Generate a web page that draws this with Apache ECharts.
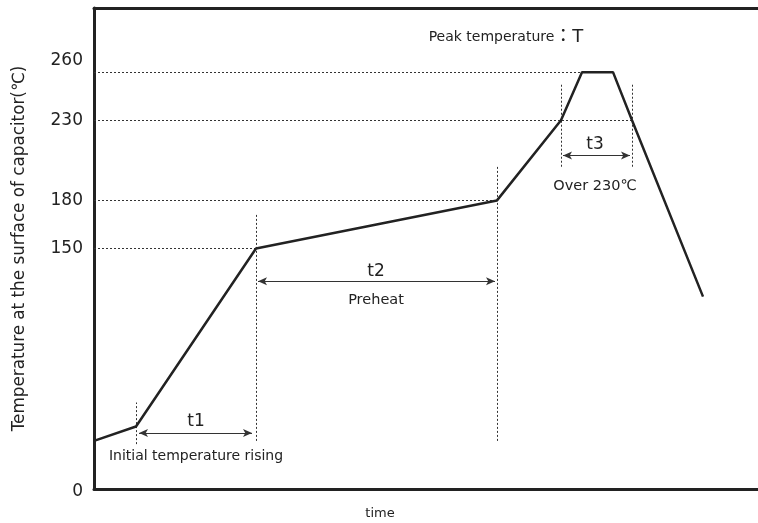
<!DOCTYPE html>
<html>
<head>
<meta charset="utf-8">
<script src="https://cdn.jsdelivr.net/npm/echarts@6/dist/echarts.min.js"></script>
<style>
  html, body { margin: 0; padding: 0; background: #fff; }
  #main { width: 758px; height: 523px; }
</style>
</head>
<body>
<div id="main"></div>
<script>
// reflow profile (time in arbitrary units, temperature in ℃)
var profileTime = [0, 42, 162, 403, 467, 488, 519, 538, 609];
var profileTemp = [30, 39, 150, 180, 230, 260, 260, 230, 120];
var tickLabels = [0, 150, 180, 230, 260];

// index of each key point in the profile
var P_T1 = 1, P_150 = 2, P_180 = 3, P_230UP = 4, P_PEAK = 5, P_230DN = 7;

var FONT = '"DejaVu Sans", "Noto Sans CJK JP", sans-serif';
var INK = '#222';

function pt(i) { return [profileTime[i], profileTemp[i]]; }

var dotted = { color: '#333', width: 1, type: [2, 2] };
var arrowStyle = { color: '#333', width: 1.2, type: 'solid' };

// horizontal dotted guide lines from the axis to the profile
var hLines = [
  [{ coord: [0, 150] }, { coord: pt(P_150) }],
  [{ coord: [0, 180] }, { coord: pt(P_180) }],
  [{ coord: [0, 230] }, { coord: pt(P_230DN) }],
  [{ coord: [0, 260] }, { coord: pt(P_PEAK) }]
];
// vertical dotted markers
var vLines = [
  [{ coord: [profileTime[P_T1], 28] }, { coord: [profileTime[P_T1], 54] }],
  [{ coord: [profileTime[P_150], 30] }, { coord: [profileTime[P_150], 171] }],
  [{ coord: [profileTime[P_180], 30] }, { coord: [profileTime[P_180], 201] }],
  [{ coord: [profileTime[P_230UP], 201] }, { coord: [profileTime[P_230UP], 253] }],
  [{ coord: [profileTime[P_230DN], 201] }, { coord: [profileTime[P_230DN], 253] }]
];
// double arrows
var arrows = [
  [{ coord: [profileTime[P_T1] + 3, 35] }, { coord: [profileTime[P_150] - 4, 35] }],
  [{ coord: [profileTime[P_150] + 2, 129.5] }, { coord: [profileTime[P_180] - 2, 129.5] }],
  [{ coord: [profileTime[P_230UP] + 2, 208] }, { coord: [profileTime[P_230DN] - 2, 208] }]
];

function txt(x, y, text, size) {
  return {
    coord: [x, y], symbol: 'circle', symbolSize: 1,
    itemStyle: { color: 'rgba(0,0,0,0)' },
    label: { show: true, position: 'inside', formatter: text, color: INK, fontFamily: FONT, fontSize: size }
  };
}

var notes = [
  txt(102, 42, 't1', 17),
  txt(102, 20.5, 'Initial temperature rising', 14),
  txt(282, 135.5, 't2', 17),
  txt(282, 117.5, 'Preheat', 14.5),
  txt(501, 215, 't3', 17),
  txt(501, 189, 'Over 230℃', 14.5),
  {
    coord: [412, 282], symbol: 'circle', symbolSize: 1,
    itemStyle: { color: 'rgba(0,0,0,0)' },
    label: {
      show: true, position: 'inside', formatter: '{a|Peak temperature}{b|：T}',
      rich: {
        a: { fontFamily: FONT, fontSize: 14, color: INK },
        b: { fontFamily: FONT, fontSize: 18, color: INK }
      }
    }
  }
];

var myChart = echarts.init(document.getElementById('main'));

var option = {
  backgroundColor: '#fff',
  animation: false,
  grid: { left: 94, right: 0, top: 8, bottom: 34, containLabel: false, outerBoundsMode: 'none' },
  xAxis: [{
    type: 'value', min: 0, max: 664,
    name: 'time', nameLocation: 'middle', nameGap: 18,
    nameTextStyle: { fontFamily: FONT, fontSize: 13, color: INK, padding: [0, 92, 0, 0] },
    axisLine: { show: true, onZero: false, lineStyle: { color: INK, width: 3 } },
    axisTick: { show: false }, axisLabel: { show: false }, splitLine: { show: false }
  }, {
    type: 'value', min: 0, max: 664, position: 'top',
    axisLine: { show: true, onZero: false, lineStyle: { color: INK, width: 3 } },
    axisTick: { show: false }, axisLabel: { show: false }, splitLine: { show: false }
  }],
  yAxis: {
    type: 'value', min: 0, max: 300, interval: 10,
    name: 'Temperature at the surface of capacitor(℃)',
    nameLocation: 'middle', nameGap: 66, nameRotate: 90,
    nameTextStyle: { fontFamily: FONT, fontSize: 16.8, color: INK },
    axisLine: { show: true, onZero: false, lineStyle: { color: INK, width: 3 } },
    axisTick: { show: false },
    splitLine: { show: false },
    axisLabel: {
      margin: 11, color: INK, fontFamily: FONT, fontSize: 17,
      formatter: function (v) {
        if (tickLabels.indexOf(v) < 0) return '';
        if (v === 260) return '{up|' + v + '}';
        if (v === 0) return '{down|' + v + '}';
        return String(v);
      },
      rich: {
        up: { fontFamily: FONT, fontSize: 17, color: INK, padding: [0, 0, 24, 0] },
        down: { fontFamily: FONT, fontSize: 17, color: INK, padding: [6, 0, 0, 0] }
      }
    }
  },
  series: [{
    type: 'line',
    data: profileTime.map(function (t, i) { return [t, profileTemp[i]]; }),
    symbol: 'none',
    lineStyle: { color: INK, width: 2.5 },
    z: 5,
    markLine: {
      silent: true, symbol: 'none', animation: false,
      label: { show: false },
      lineStyle: dotted,
      data: hLines.concat(vLines)
    },
    markPoint: {
      silent: true, animation: false,
      data: notes
    }
  }, {
    type: 'line', data: [], symbol: 'none',
    markLine: {
      silent: true, animation: false,
      symbol: ['arrow', 'arrow'], symbolSize: [6, 9],
      label: { show: false },
      lineStyle: arrowStyle,
      data: arrows
    }
  }]
};

myChart.setOption(option);
</script>
</body>
</html>
